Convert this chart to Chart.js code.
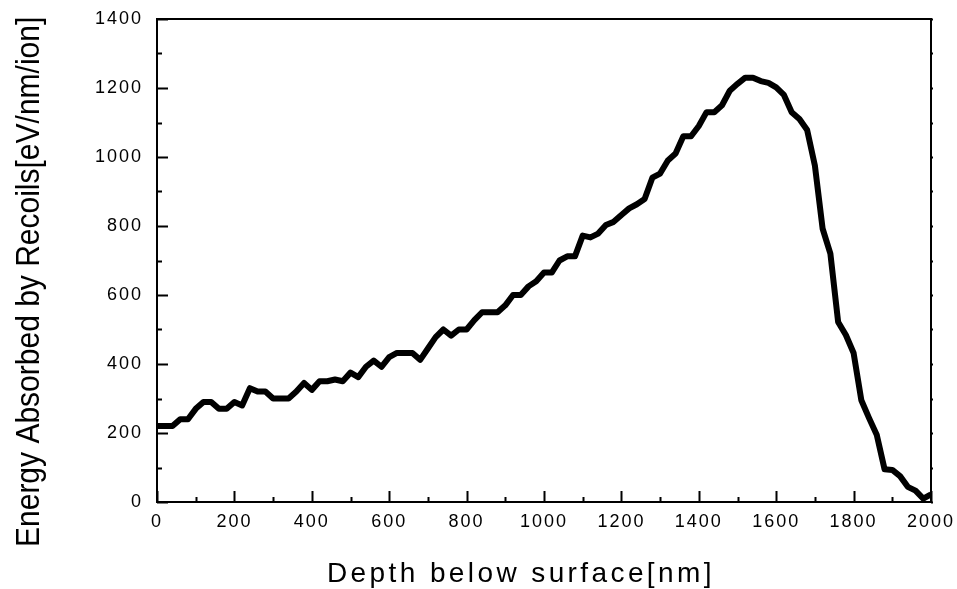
<!DOCTYPE html>
<html>
<head>
<meta charset="utf-8">
<title>Energy absorbed by recoils vs depth</title>
<script src="https://cdn.jsdelivr.net/npm/chart.js@4/dist/chart.umd.min.js"></script>
<style>
  html, body { margin: 0; padding: 0; background: #fff; }
  #wrap { width: 957px; height: 589px; }
</style>
</head>
<body>
<div id="wrap"><canvas id="depthChart" width="957" height="589"></canvas></div>
<script>
// depth in nm, one sample every 20 nm
const depth = [
  0, 20, 40, 60, 80, 100, 120, 140, 160, 180,
  200, 220, 240, 260, 280, 300, 320, 340, 360, 380,
  400, 420, 440, 460, 480, 500, 520, 540, 560, 580,
  600, 620, 640, 660, 680, 700, 720, 740, 760, 780,
  800, 820, 840, 860, 880, 900, 920, 940, 960, 980,
  1000, 1020, 1040, 1060, 1080, 1100, 1120, 1140, 1160, 1180,
  1200, 1220, 1240, 1260, 1280, 1300, 1320, 1340, 1360, 1380,
  1400, 1420, 1440, 1460, 1480, 1500, 1520, 1540, 1560, 1580,
  1600, 1620, 1640, 1660, 1680, 1700, 1720, 1740, 1760, 1780,
  1800, 1820, 1840, 1860, 1880, 1900, 1920, 1940, 1960, 1980,
  2000
];

// energy absorbed by recoils, eV/nm/ion
const energy = [
  220, 220, 220, 240, 240, 270, 290, 290, 270, 270,
  290, 280, 330, 320, 320, 300, 300, 300, 320, 345,
  325, 350, 350, 355, 350, 375, 362, 392, 410, 392,
  420, 432, 432, 432, 412, 445, 478, 500, 482, 500,
  500, 527, 550, 550, 550, 570, 600, 600, 625, 640,
  665, 665, 700, 712, 712, 772, 767, 778, 803, 812,
  832, 851, 863, 878, 940, 952, 990, 1010, 1060, 1060,
  1090, 1130, 1130, 1150, 1192, 1212, 1230, 1230, 1220, 1215,
  1202, 1180, 1130, 1110, 1078, 975, 792, 720, 522, 484,
  432, 295, 243, 194, 95, 93, 75, 44, 33, 10,
  22
];

const xTicks = [0, 200, 400, 600, 800, 1000, 1200, 1400, 1600, 1800, 2000];
const yTicks = [0, 200, 400, 600, 800, 1000, 1200, 1400];

const xTitle = "Depth below surface[nm]";
const yTitle = "Energy Absorbed by Recoils[eV/nm/ion]";

const FONT = "'Liberation Sans', Arial, Helvetica, sans-serif";

// box, inward ticks and the two axis titles
const framePlugin = {
  id: "frame",
  beforeDraw(chart) {
    chart.ctx.letterSpacing = "2px";
  },
  afterDraw(chart) {
    const { ctx, chartArea: a, scales } = chart;
    ctx.save();
    ctx.letterSpacing = "0px";
    ctx.strokeStyle = "#000";
    ctx.lineWidth = 2;
    ctx.strokeRect(a.left, a.top, a.right - a.left, a.bottom - a.top);

    ctx.beginPath();
    for (let v = 0; v <= 2000; v += 100) {
      const px = Math.round(scales.x.getPixelForValue(v)) + 0.5;
      const len = v % 200 === 0 ? 11 : 5;
      ctx.moveTo(px, a.bottom);
      ctx.lineTo(px, a.bottom - len);
    }
    for (let v = 0; v <= 1400; v += 100) {
      const py = Math.round(scales.y.getPixelForValue(v)) + 0.5;
      const len = v % 200 === 0 ? 11 : 5;
      ctx.moveTo(a.left, py);
      ctx.lineTo(a.left + len, py);
      ctx.moveTo(a.right, py);
      ctx.lineTo(a.right + 2, py);
    }
    ctx.stroke();

    ctx.fillStyle = "#000";
    ctx.font = "28px " + FONT;
    ctx.letterSpacing = "3.4px";
    ctx.textAlign = "left";
    ctx.textBaseline = "alphabetic";
    ctx.fillText(xTitle, 327, 582);

    // y title: slightly tall glyphs
    ctx.font = "30px " + FONT;
    ctx.letterSpacing = "0px";
    ctx.translate(39, 547);
    ctx.rotate(-Math.PI / 2);
    ctx.scale(1, 1.1);
    ctx.fillText(yTitle, 0, 0);
    ctx.restore();
  }
};

const points = depth.map((d, i) => ({ x: d, y: energy[i] }));

new Chart(document.getElementById("depthChart"), {
  type: "line",
  data: {
    datasets: [{
      data: points,
      borderColor: "#000",
      borderWidth: 6,
      borderJoinStyle: "round",
      pointRadius: 0,
      tension: 0,
      fill: false
    }]
  },
  options: {
    responsive: false,
    animation: false,
    devicePixelRatio: 1,
    layout: { padding: { left: 0, right: 26, top: 19, bottom: 0 } },
    plugins: {
      legend: { display: false },
      tooltip: { enabled: false }
    },
    scales: {
      x: {
        type: "linear",
        min: 0,
        max: 2000,
        afterBuildTicks: s => { s.ticks = xTicks.map(v => ({ value: v })); },
        afterFit: s => { s.height = 87; s.paddingLeft = 0; s.paddingRight = 0; },
        grid: { display: false, drawTicks: false },
        border: { display: false },
        ticks: {
          padding: 9,
          maxRotation: 0,
          color: "#000",
          font: { family: FONT, size: 18 },
          callback: v => String(v)
        }
      },
      y: {
        type: "linear",
        min: 0,
        max: 1400,
        afterBuildTicks: s => { s.ticks = yTicks.map(v => ({ value: v })); },
        afterFit: s => { s.width = 157; s.paddingTop = 0; s.paddingBottom = 0; },
        grid: { display: false, drawTicks: false },
        border: { display: false },
        ticks: {
          padding: 14,
          color: "#000",
          font: { family: FONT, size: 18 },
          callback: v => String(v)
        }
      }
    }
  },
  plugins: [framePlugin]
});
</script>
</body>
</html>
